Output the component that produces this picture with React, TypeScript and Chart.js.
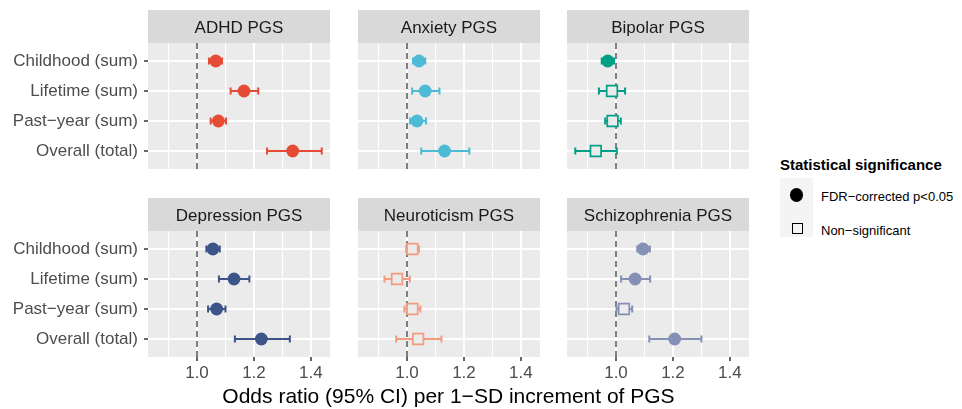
import React, { useEffect, useRef } from 'react';
import { Chart, registerables } from 'chart.js';

Chart.register(...registerables);

// ---------- data ----------
const categories = ['Childhood (sum)', 'Lifetime (sum)', 'Past\u2212year (sum)', 'Overall (total)'];
const panelTitles = ['ADHD PGS', 'Anxiety PGS', 'Bipolar PGS', 'Depression PGS', 'Neuroticism PGS', 'Schizophrenia PGS'];
const oddsRatio = [
  [1.066, 1.165, 1.075, 1.336],
  [1.042, 1.064, 1.035, 1.132],
  [0.971, 0.986, 0.988, 0.929],
  [1.056, 1.130, 1.069, 1.226],
  [1.019, 0.965, 1.019, 1.039],
  [1.095, 1.067, 1.028, 1.206],
];
const lowerCI = [
  [1.042, 1.118, 1.048, 1.246],
  [1.021, 1.018, 1.011, 1.050],
  [0.950, 0.940, 0.962, 0.857],
  [1.033, 1.077, 1.039, 1.133],
  [0.997, 0.921, 0.991, 0.962],
  [1.075, 1.018, 1.002, 1.117],
];
const upperCI = [
  [1.088, 1.215, 1.102, 1.438],
  [1.064, 1.114, 1.067, 1.219],
  [0.993, 1.032, 1.017, 1.003],
  [1.080, 1.184, 1.100, 1.326],
  [1.042, 1.010, 1.047, 1.121],
  [1.119, 1.120, 1.057, 1.300],
];
const significant = [
  [true, true, true, true],
  [true, true, true, true],
  [true, false, false, false],
  [true, true, true, true],
  [false, false, false, false],
  [true, true, false, true],
];
const xTicks = [0.9, 1.0, 1.1, 1.2, 1.3, 1.4];
const labeledTicks = [1.0, 1.2, 1.4];
const legendLabels = ['FDR\u2212corrected p<0.05', 'Non\u2212significant'];
const legendTitle = 'Statistical significance';
const axisTitle = 'Odds ratio (95% CI) per 1\u2212SD increment of PGS';

// ---------- styles ----------
const panelColors = ['#E64B35', '#4DBBD5', '#00A087', '#3C5488', '#F39B7F', '#8491B4'];
const FONT = '"Liberation Sans", Arial, Helvetica, sans-serif';
const PANEL_BG = '#EBEBEB';
const STRIP_BG = '#D9D9D9';
const PANEL_LEFT = [148, 358, 567];
const PANEL_W = 182;
const PANEL_H = 126;
const STRIP_H = 33;
const ROW_TOP = [10, 198];
const Y_AXIS_W = 148;
const X_AXIS_H = 30;

const isMajor = (v: number) => labeledTicks.some((t) => Math.abs(t - v) < 1e-6);

const zeroPad = (s: any) => {
  s.paddingTop = 0;
  s.paddingBottom = 0;
  s.paddingLeft = 0;
  s.paddingRight = 0;
};

const facetPlugin = {
  id: 'facet',
  beforeDraw(chart: any, _args: any, opts: any) {
    const { ctx, chartArea: a } = chart;
    ctx.save();
    ctx.fillStyle = STRIP_BG;
    ctx.fillRect(a.left, a.top - STRIP_H, a.right - a.left, STRIP_H);
    ctx.fillStyle = PANEL_BG;
    ctx.fillRect(a.left, a.top, a.right - a.left, a.bottom - a.top);
    ctx.fillStyle = '#1A1A1A';
    ctx.font = `17px ${FONT}`;
    ctx.textAlign = 'center';
    ctx.textBaseline = 'alphabetic';
    ctx.fillText(opts.title, (a.left + a.right) / 2, a.top - STRIP_H + 23.2);
    ctx.restore();
  },
  beforeDatasetsDraw(chart: any, _args: any, opts: any) {
    const { ctx, chartArea: a } = chart;
    const xs = chart.scales.x;
    const ys = chart.scales.y;
    ctx.save();
    // reference line at OR = 1
    const px = Math.round(xs.getPixelForValue(1));
    ctx.strokeStyle = '#7F7F7F';
    ctx.lineWidth = 2;
    ctx.setLineDash([6, 4]);
    ctx.beginPath();
    ctx.moveTo(px, a.top);
    ctx.lineTo(px, a.bottom);
    ctx.stroke();
    ctx.setLineDash([]);
    // error bars
    ctx.strokeStyle = opts.color;
    ctx.lineWidth = 2;
    chart.data.datasets[0].data.forEach((d: any) => {
      const y = ys.getPixelForValue(d.y);
      const x1 = xs.getPixelForValue(d.lo);
      const x2 = xs.getPixelForValue(d.hi);
      ctx.beginPath();
      ctx.moveTo(x1, y);
      ctx.lineTo(x2, y);
      ctx.moveTo(x1, y - 3.5);
      ctx.lineTo(x1, y + 3.5);
      ctx.moveTo(x2, y - 3.5);
      ctx.lineTo(x2, y + 3.5);
      ctx.stroke();
    });
    ctx.restore();
  },
};

function buildConfig(i: number): any {
  const row = Math.floor(i / 3);
  const col = i % 3;
  const color = panelColors[i];
  const data = oddsRatio[i].map((v, k) => ({
    x: v,
    y: k,
    lo: lowerCI[i][k],
    hi: upperCI[i][k],
    sig: significant[i][k],
  }));
  return {
    type: 'scatter',
    data: {
      datasets: [
        {
          data,
          clip: false,
          pointStyle: (c: any) => (c.raw && c.raw.sig ? 'circle' : 'rect'),
          pointRadius: (c: any) => (c.raw && c.raw.sig ? 6.4 : 7.5),
          pointBackgroundColor: (c: any) => (c.raw && c.raw.sig ? color : PANEL_BG),
          pointBorderColor: color,
          pointBorderWidth: (c: any) => (c.raw && c.raw.sig ? 0 : 1.7),
          pointHoverRadius: (c: any) => (c.raw && c.raw.sig ? 6.4 : 7.5),
        },
      ],
    },
    plugins: [facetPlugin],
    options: {
      animation: false,
      responsive: false,
      maintainAspectRatio: false,
      events: [],
      layout: { autoPadding: false, padding: { top: STRIP_H, left: 0, right: 0, bottom: 0 } },
      plugins: {
        legend: { display: false },
        tooltip: { enabled: false },
        title: { display: false },
        facet: { title: panelTitles[i], color },
      },
      scales: {
        x: {
          type: 'linear',
          min: 0.828,
          max: 1.467,
          afterBuildTicks: (s: any) => {
            s.ticks = xTicks.map((v) => ({ value: v }));
          },
          afterFit: (s: any) => {
            s.height = row === 1 ? X_AXIS_H : 0;
            zeroPad(s);
          },
          border: { display: false },
          grid: {
            color: '#FFFFFF',
            lineWidth: (c: any) => (c.tick && isMajor(c.tick.value) ? 2 : 1.1),
            drawTicks: row === 1,
            tickLength: 4,
            tickWidth: 1.5,
            tickColor: (c: any) => (c.tick && isMajor(c.tick.value) ? '#333333' : 'rgba(0,0,0,0)'),
          },
          ticks: {
            display: row === 1,
            autoSkip: false,
            maxRotation: 0,
            padding: 2,
            color: '#4D4D4D',
            font: { family: FONT, size: 17 },
            callback: (v: number) => (isMajor(v) ? v.toFixed(1) : ''),
          },
        },
        y: {
          type: 'linear',
          reverse: true,
          min: -0.6,
          max: 3.6,
          afterBuildTicks: (s: any) => {
            s.ticks = categories.map((_, k) => ({ value: k }));
          },
          afterFit: (s: any) => {
            s.width = col === 0 ? Y_AXIS_W : 0;
            zeroPad(s);
          },
          border: { display: false },
          grid: {
            color: '#FFFFFF',
            lineWidth: 2,
            drawTicks: col === 0,
            tickLength: 4,
            tickWidth: 1.5,
            tickColor: '#333333',
          },
          ticks: {
            display: col === 0,
            autoSkip: false,
            padding: 6,
            color: '#4D4D4D',
            font: { family: FONT, size: 17 },
            callback: (v: number) => categories[Math.round(v)] ?? '',
          },
        },
      },
    },
  };
}

function Panel({ index }: { index: number }) {
  const ref = useRef<HTMLCanvasElement>(null);
  const row = Math.floor(index / 3);
  const col = index % 3;
  const left = col === 0 ? PANEL_LEFT[0] - Y_AXIS_W : PANEL_LEFT[col];
  const width = col === 0 ? PANEL_W + Y_AXIS_W : PANEL_W;
  const top = ROW_TOP[row];
  const height = STRIP_H + PANEL_H + (row === 1 ? X_AXIS_H : 0);
  useEffect(() => {
    if (!ref.current) return;
    const chart = new Chart(ref.current, buildConfig(index));
    return () => chart.destroy();
  }, [index]);
  return (
    <canvas
      ref={ref}
      width={width}
      height={height}
      style={{ position: 'absolute', left, top, width, height }}
    />
  );
}

export default function App() {
  return (
    <div style={{ position: 'absolute', left: 0, top: 0, width: 962, height: 409, background: '#FFFFFF', fontFamily: FONT }}>
      {panelTitles.map((_, i) => (
        <Panel key={i} index={i} />
      ))}
      <div
        style={{
          position: 'absolute',
          left: PANEL_LEFT[0],
          width: PANEL_LEFT[2] + PANEL_W - PANEL_LEFT[0],
          top: 385,
          fontSize: 21,
          lineHeight: '21px',
          textAlign: 'center',
          color: '#000000',
          whiteSpace: 'nowrap',
        }}
      >
        {axisTitle}
      </div>
      <div
        style={{
          position: 'absolute',
          left: 780,
          top: 157,
          fontSize: 15,
          lineHeight: '15px',
          fontWeight: 'bold',
          color: '#000000',
          whiteSpace: 'nowrap',
        }}
      >
        {legendTitle}
      </div>
      <div style={{ position: 'absolute', left: 780, top: 178, width: 33, height: 59, background: '#F4F4F4' }} />
      <div
        style={{
          position: 'absolute',
          left: 796.5 - 6.6,
          top: 195 - 6.6,
          width: 13.2,
          height: 13.2,
          borderRadius: '50%',
          background: '#000000',
        }}
      />
      <div
        style={{
          position: 'absolute',
          left: 797 - 5.5,
          top: 228.5 - 5.5,
          width: 11,
          height: 11,
          boxSizing: 'border-box',
          border: '1.5px solid #000000',
          background: '#F4F4F4',
        }}
      />
      {legendLabels.map((t, k) => (
        <div
          key={t}
          style={{
            position: 'absolute',
            left: 821,
            top: k === 0 ? 189.5 : 223.5,
            fontSize: 13,
            lineHeight: '13px',
            color: '#000000',
            whiteSpace: 'nowrap',
          }}
        >
          {t}
        </div>
      ))}
    </div>
  );
}
